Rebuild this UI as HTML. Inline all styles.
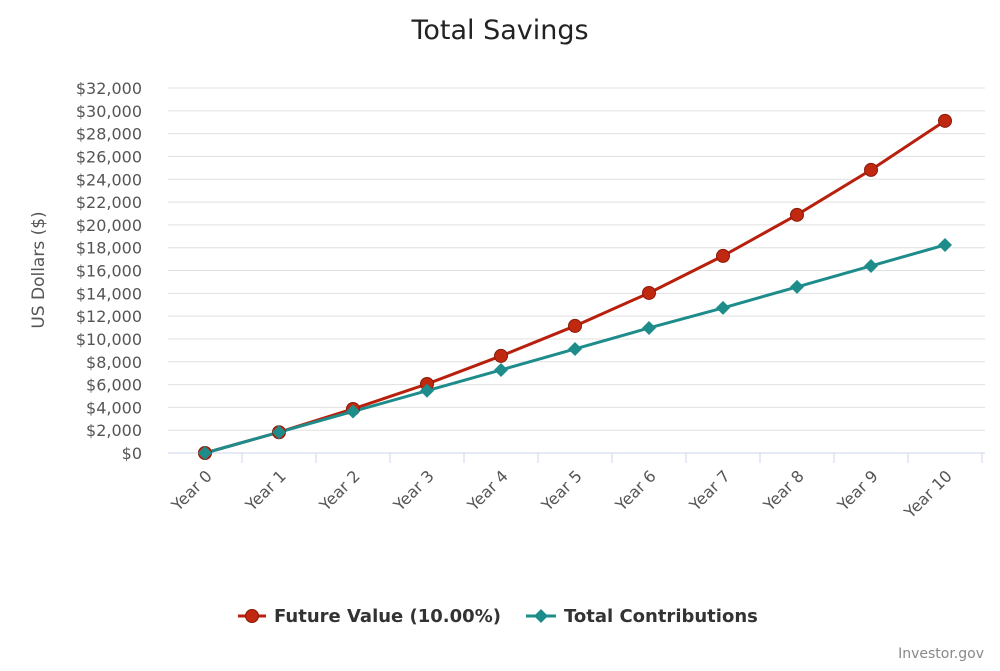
<!DOCTYPE html>
<html><head><meta charset="utf-8"><style>
body{margin:0;background:#fff;font-family:"DejaVu Sans","Liberation Sans",sans-serif;}
svg text{font-family:"DejaVu Sans","Liberation Sans",sans-serif;}
</style></head><body>
<svg id="chart" width="1000" height="667" viewBox="0 0 1000 667" xmlns="http://www.w3.org/2000/svg">
<rect width="1000" height="667" fill="#fff"/>
<text x="500" y="39" text-anchor="middle" font-size="27" fill="#222">Total Savings</text>
<text transform="translate(44,270) rotate(-90)" text-anchor="middle" font-size="17" fill="#555">US Dollars ($)</text>
<g id="grid"></g><g id="xaxis"></g><g id="series"></g>
<g>
<g>
<line x1="238" y1="616" x2="266" y2="616" stroke="#b8200d" stroke-width="3"/>
<circle cx="252" cy="616" r="6.5" fill="#c0280f" stroke="#8a1a08" stroke-width="1"/>
<text x="274" y="622" font-size="18" font-weight="bold" fill="#333">Future Value (10.00%)</text></g>
<g>
<line x1="526" y1="616" x2="556" y2="616" stroke="#1f8c8c" stroke-width="3"/>
<path d="M541 609 L548 616 L541 623 L534 616 Z" fill="#1f8c8c"/>
<text x="564" y="622" font-size="18" font-weight="bold" fill="#333">Total Contributions</text></g>
</g>
<text x="984" y="658" text-anchor="end" font-size="14" fill="#888">Investor.gov</text>
</svg>
<script>
const categories=["Year 0","Year 1","Year 2","Year 3","Year 4","Year 5","Year 6","Year 7","Year 8","Year 9","Year 10"];
const futureValue=[0,1820,3860,6050,8510,11140,14030,17280,20880,24820,29120];
const contributions=[0,1820,3640,5460,7280,9120,10960,12720,14560,16400,18240];
const yTicks=[0,2000,4000,6000,8000,10000,12000,14000,16000,18000,20000,22000,24000,26000,28000,30000,32000];
const NS="http://www.w3.org/2000/svg";
const plotLeft=168,plotRight=982,plotTop=88,plotBottom=453,yMax=32000;
const band=(plotRight-plotLeft)/categories.length;
const xs=i=>plotLeft+band*(i+0.5);
const ys=v=>plotBottom-(v/yMax)*(plotBottom-plotTop);
function mk(t,a,p){const e=document.createElementNS(NS,t);for(const k in a)e.setAttribute(k,a[k]);p.appendChild(e);return e;}
const grid=document.getElementById('grid');
yTicks.forEach(v=>{
 const l=mk('line',{x1:plotLeft,x2:plotRight+3,y1:ys(v),y2:ys(v),stroke:v===0?'#ccd6eb':'#e0e0e0','stroke-width':1},grid);
 
 
 const t=mk('text',{x:plotLeft-26,y:ys(v)+6,'text-anchor':'end','font-size':16,fill:'#555'},grid);
 t.textContent='$'+v.toLocaleString('en-US');
 
 
});
const xa=document.getElementById('xaxis');
categories.forEach((c,i)=>{
 const tk=mk('line',{x1:plotLeft+band*(i+1),x2:plotLeft+band*(i+1),y1:plotBottom,y2:plotBottom+10,stroke:'#ccd6eb'},xa);
 
 
 const tx=xs(i)+8,ty=plotBottom+24;
 const t=mk('text',{x:tx,y:ty,'text-anchor':'end','font-size':16,fill:'#555',transform:'rotate(-45 '+tx+' '+ty+')'},xa);
 t.textContent=c;
 
 
});
const s=document.getElementById('series');
function drawLine(vals,col,name){
 const p=mk('polyline',{points:vals.map((v,i)=>xs(i)+','+ys(v)).join(' '),fill:'none',stroke:col,'stroke-width':3},s);
 
 
}
drawLine(futureValue,'#b8200d','future-value');
drawLine(contributions,'#1f8c8c','total-contributions');
futureValue.forEach((v,i)=>{
 const c=mk('circle',{cx:xs(i),cy:ys(v),r:6.5,fill:'#c0280f',stroke:'#8a1a08'},s);
 
 
});
contributions.forEach((v,i)=>{
 const cx=xs(i),cy=ys(v);
 const d=mk('path',{d:'M'+cx+' '+(cy-7)+' L'+(cx+7)+' '+cy+' L'+cx+' '+(cy+7)+' L'+(cx-7)+' '+cy+' Z',fill:'#1f8c8c'},s);
 
 
});
</script>
</body></html>
